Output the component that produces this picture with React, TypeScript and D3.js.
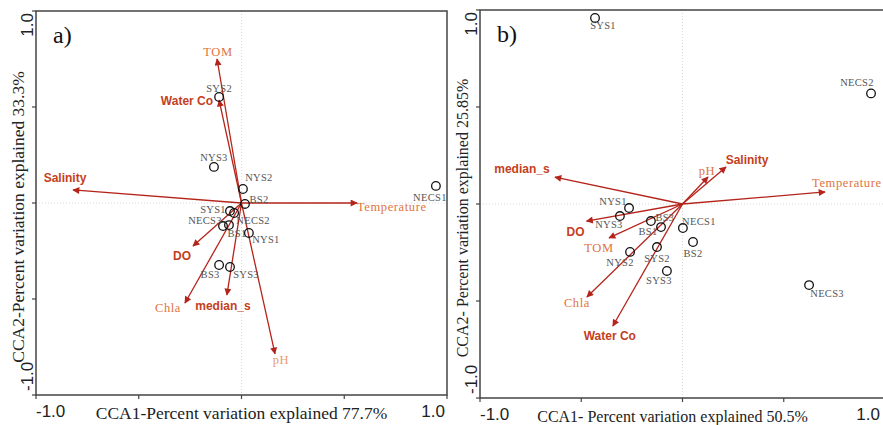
import React from 'react';
import * as d3 from 'd3';

// panel a) sites
const sitesA = ['SYS2', 'NYS3', 'NYS2', 'BS2', 'SYS1', 'NECS2', 'NECS3', 'BS1', 'NYS1', 'BS3', 'SYS3', 'NECS1'];
const siteXA = [-0.109, -0.134, 0.007, 0.017, -0.056, -0.036, -0.090, -0.061, 0.036, -0.109, -0.056, 0.946];
const siteYA = [0.552, 0.188, 0.073, -0.005, -0.042, -0.052, -0.120, -0.115, -0.156, -0.323, -0.333, 0.089];
// panel a) environmental vectors
const varsA = ['TOM', 'Water Co', 'Salinity', 'Temperature', 'DO', 'Chla', 'median_s', 'pH'];
const varXA = [-0.119, -0.109, -0.820, 0.562, -0.236, -0.275, -0.071, 0.163];
const varYA = [0.750, 0.536, 0.068, 0.0, -0.224, -0.521, -0.479, -0.786];

// panel b) sites
const sitesB = ['SYS1', 'NECS2', 'NYS1', 'NYS3', 'BS3', 'BS1', 'NECS1', 'BS2', 'NYS2', 'SYS2', 'SYS3', 'NECS3'];
const siteXB = [-0.432, 0.931, -0.264, -0.309, -0.156, -0.106, 0.002, 0.052, -0.259, -0.126, -0.077, 0.625];
const siteYB = [0.959, 0.570, -0.021, -0.062, -0.088, -0.119, -0.124, -0.196, -0.247, -0.222, -0.345, -0.418];
// panel b) environmental vectors
const varsB = ['median_s', 'pH', 'Salinity', 'Temperature', 'DO', 'TOM', 'Chla', 'Water Co'];
const varXB = [-0.630, 0.126, 0.215, 0.704, -0.474, -0.363, -0.472, -0.344];
const varYB = [0.139, 0.139, 0.191, 0.062, -0.088, -0.175, -0.479, -0.629];

const axisTicks = [-1, -0.5, 0, 0.5, 1];
const tickLabels = ['-1.0', '', '', '', '1.0'];

// bold sans labels vs thin serif labels
const boldVars = ['Water Co', 'Salinity', 'DO', 'median_s'];

// label offsets [dx, dy, anchor] (layout only)
const siteOffA: [number, number, string][] = [
  [0, -9, 'middle'], [0, -10, 'middle'], [16, -12, 'middle'], [14, -5, 'middle'], [-17, -2, 'middle'], [19, 7, 'middle'],
  [-18, -6, 'middle'], [8, 8, 'middle'], [17, 6, 'middle'], [-9, 9, 'middle'], [16, 7, 'middle'], [-6, 11, 'middle'],
];
const varOffA: [number, number, string][] = [
  [1, -7, 'middle'], [-6, 1, 'end'], [-8, -12, 'middle'], [0, 4, 'start'], [-11, 10, 'middle'], [-17, 5, 'middle'], [-4, 11, 'middle'], [6, 6, 'middle'],
];
const siteOffB: [number, number, string][] = [
  [8, 7, 'middle'], [-14, -11, 'middle'], [-16, -7, 'middle'], [-11, 8, 'middle'], [14, -4, 'middle'], [-13, 4, 'middle'],
  [16, -7, 'middle'], [0, 11, 'middle'], [-10, 10, 'middle'], [0, 11, 'middle'], [-8, 9, 'middle'], [18, 8, 'middle'],
];
const varOffB: [number, number, string][] = [
  [-33, -8, 'middle'], [-1, -6, 'middle'], [21, -7, 'middle'], [-13, -9, 'start'], [-11, 11, 'middle'], [-10, 10, 'middle'], [-10, 6, 'middle'], [-3, 10, 'middle'],
];

const ARROW = '#b5241a';
const BOLD = '#c4401c';
const THIN = '#e0743e';
const SERIF = '"Liberation Serif", "Times New Roman", serif';
const SANS = '"Liberation Sans", Arial, sans-serif';

function Panel({ id, x0, x1, y0, y1, tag, xTitle, yTitle, titleSize, xTitleShift, sites, sx, sy, sOff, vars, vx, vy, vOff }: any) {
  const x = d3.scaleLinear().domain([-1, 1]).range([x0, x1]);
  const y = d3.scaleLinear().domain([-1, 1]).range([y1, y0]);
  const cx = (x0 + x1) / 2;
  const cy = (y0 + y1) / 2;
  return (
    <g>
      <defs>
        <marker id={'arr' + id} viewBox="0 0 10 10" refX="9" refY="5" markerWidth="9" markerHeight="7" markerUnits="userSpaceOnUse" orient="auto">
          <path d="M0,0 L10,5 L0,10 z" fill={ARROW} />
        </marker>
      </defs>
      {/* zero lines */}
      <line x1={x(0)} x2={x(0)} y1={y0} y2={y1} stroke="#cfcfcf" strokeWidth={0.8} strokeDasharray="1,2" />
      <line x1={x0} x2={x1} y1={y(0)} y2={y(0)} stroke="#cfcfcf" strokeWidth={0.8} strokeDasharray="1,2" />
      {/* frame */}
      <rect x={x0} y={y0} width={x1 - x0} height={y1 - y0} fill="none" stroke="#444" strokeWidth={1.5} />
      {axisTicks.map((t, i) => (
        <g key={'t' + i}>
          <line x1={x(t)} x2={x(t)} y1={y1} y2={y1 + 4} stroke="#444" strokeWidth={1.2} />
          <line x1={x0} x2={x0 - 4} y1={y(t)} y2={y(t)} stroke="#444" strokeWidth={1.2} />
          {tickLabels[i] && (
            <text x={i === 0 ? x(t) : Math.min(x(t) - 2, 880)} y={y1 + 22} fontFamily={SANS} fontSize={17} fill="#222"
              textAnchor={i === 0 ? 'start' : 'end'}>{tickLabels[i]}</text>
          )}
          {tickLabels[i] && (
            <text transform={`translate(${x0 - 3},${i === 0 ? y(t) - 4 : y(t) + 2}) rotate(-90)`} fontFamily={SANS} fontSize={17} fill="#222"
              textAnchor={i === 0 ? 'start' : 'end'}>{tickLabels[i]}</text>
          )}
        </g>
      ))}
      <text x={cx + xTitleShift} y={y1 + 24} textAnchor="middle" fontFamily={SERIF} fontSize={titleSize} fill="#222">{xTitle}</text>
      <text transform={`translate(${x0 - 12},${cy + 14}) rotate(-90)`} textAnchor="middle" fontFamily={SERIF} fontSize={titleSize} fill="#222">{yTitle}</text>
      <text x={x0 + 17} y={y0 + 32} fontFamily={SERIF} fontSize={24} fill="#111">{tag}</text>
      {/* vectors */}
      {vars.map((v: string, i: number) => (
        <line key={'v' + i} x1={x(0)} y1={y(0)} x2={x(vx[i])} y2={y(vy[i])} stroke={ARROW} strokeWidth={1.3} markerEnd={`url(#arr${id})`} />
      ))}
      {vars.map((v: string, i: number) => {
        const bold = boldVars.includes(v);
        return (
          <text key={'vl' + i} x={x(vx[i]) + vOff[i][0]} y={y(vy[i]) + vOff[i][1]} dy="0.35em" textAnchor={vOff[i][2]}
            fontFamily={bold ? SANS : SERIF} fontWeight={bold ? 700 : 400} fontSize={bold ? 12 : 12.5}
            fill={bold ? BOLD : (v === 'pH' && id === 'a' ? '#ea9a6c' : THIN)} letterSpacing={bold ? 0 : 0.6}>{v}</text>
        );
      })}
      {/* sites */}
      {sites.map((s: string, i: number) => (
        <g key={'s' + i}>
          <circle cx={x(sx[i])} cy={y(sy[i])} r={4.3} fill="none" stroke="#111" strokeWidth={1.3} />
          <text x={x(sx[i]) + sOff[i][0]} y={y(sy[i]) + sOff[i][1]} dy="0.35em" textAnchor={sOff[i][2]}
            fontFamily={SERIF} fontSize={10.5} fill="#555" letterSpacing={0.3}>{s}</text>
        </g>
      ))}
    </g>
  );
}

export default function App() {
  return (
    <svg width={883} height={425} style={{ position: 'absolute', left: 0, top: 0, background: '#fff' }}>
      <rect width={883} height={425} fill="#fff" />
      <Panel id="a" x0={36} x1={447} y0={11} y1={395} tag="a)" titleSize={17.5} xTitleShift={0}
        xTitle="CCA1-Percent variation explained 77.7%" yTitle="CCA2-Percent variation explained 33.3%"
        sites={sitesA} sx={siteXA} sy={siteYA} sOff={siteOffA} vars={varsA} vx={varXA} vy={varYA} vOff={varOffA} />
      <Panel id="b" x0={480} x1={885} y0={10} y1={398} tag="b)" titleSize={16} xTitleShift={-10}
        xTitle="CCA1- Percent variation explained 50.5%" yTitle="CCA2- Percent variation explained 25.85%"
        sites={sitesB} sx={siteXB} sy={siteYB} sOff={siteOffB} vars={varsB} vx={varXB} vy={varYB} vOff={varOffB} />
    </svg>
  );
}
